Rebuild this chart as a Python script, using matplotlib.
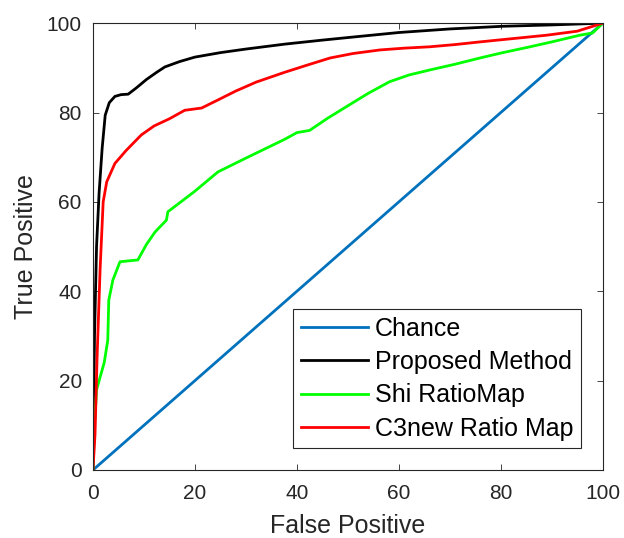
import matplotlib
matplotlib.use('Agg')
import matplotlib.pyplot as plt

plt.rcParams['font.family'] = ['Liberation Sans', 'DejaVu Sans']

chance_x = [0, 100]
chance_y = [0, 100]

proposed_x = [0, 0.3, 0.7, 1.2, 1.8, 2.4, 3.2, 4.3, 5.5, 6.9, 8.5, 10.5, 12.5, 14.1, 17, 20, 25, 30, 37.6, 45, 52, 60, 70, 80.4, 90, 100]
proposed_y = [0, 30, 50, 62, 72, 79.4, 82.2, 83.6, 84, 84.1, 85.5, 87.4, 89, 90.2, 91.4, 92.4, 93.4, 94.2, 95.3, 96.2, 97, 97.9, 98.7, 99.3, 99.6, 100]

shi_x = [0, 0.3, 0.7, 1.4, 2.2, 2.9, 3.1, 3.9, 5.3, 7, 8.8, 10.5, 12.2, 14.4, 14.7, 17.7, 20, 24.5, 30, 37.6, 40, 42.5, 46, 49.7, 54, 58.2, 62, 66, 71, 75.9, 80, 85.7, 90, 95.5, 98, 100]
shi_y = [0, 10, 17.9, 20.8, 24, 29, 38, 42.5, 46.6, 46.8, 47, 50.5, 53.3, 55.9, 57.8, 60.4, 62.4, 66.7, 69.8, 74, 75.5, 76, 78.7, 81.3, 84.3, 86.9, 88.4, 89.5, 90.8, 92.2, 93.3, 94.7, 95.8, 97.3, 97.8, 100]

c3_x = [0, 0.2, 0.4, 0.8, 1.4, 2, 2.7, 4.3, 6.5, 9.5, 12, 15, 18, 21.3, 24.5, 28, 32, 37.6, 42, 46.5, 51, 56.3, 61, 66, 71, 75.9, 82, 89, 95, 100]
c3_y = [0, 4, 8, 25, 45, 60, 64.5, 68.6, 71.5, 75, 77, 78.6, 80.5, 81, 82.8, 84.8, 86.8, 89, 90.6, 92.2, 93.2, 94, 94.4, 94.7, 95.2, 95.8, 96.5, 97.3, 98.2, 100]

labels = ['Chance', 'Proposed Method', 'Shi RatioMap', 'C3new Ratio Map']

fig = plt.figure(figsize=(6.24, 5.38), dpi=100)
ax = fig.add_axes([0.149, 0.1264, 0.817, 0.8306])

ax.plot(chance_x, chance_y, color='#0072BD', lw=2, label=labels[0])
ax.plot(proposed_x, proposed_y, color='black', lw=2, label=labels[1])
ax.plot(shi_x, shi_y, color=(0, 1, 0), lw=2, label=labels[2])
ax.plot(c3_x, c3_y, color=(1, 0, 0), lw=2, label=labels[3])

ax.set_xlim(0, 100)
ax.set_ylim(0, 100)
ax.set_xticks(range(0, 101, 20))
ax.set_yticks(range(0, 101, 20))

gray = '#262626'
ax.tick_params(direction='in', top=True, right=True, length=4, width=0.6,
               colors=gray, labelsize=15, labelcolor=gray)
ax.tick_params(axis='x', pad=10)
ax.tick_params(axis='y', pad=8)
for s in ax.spines.values():
    s.set_color(gray)
    s.set_linewidth(0.8)

# label sits right at the bottom edge, like the original export
ax.set_xlabel('False Positive', fontsize=18, color=gray, va='baseline')
ax.xaxis.set_label_coords(0.5, -0.142)
ax.set_ylabel('True Positive', fontsize=18, color=gray)
ax.yaxis.set_label_coords(-0.107, 0.5)

leg = ax.legend(loc='lower right', bbox_to_anchor=(1 - 22 / 510, 22 / 447), fontsize=18,
                frameon=True, fancybox=False, edgecolor=gray, framealpha=1,
                handlelength=2.7, handletextpad=0.27, borderpad=0.3, labelspacing=0.37,
                borderaxespad=0)
leg.get_frame().set_linewidth(0.8)

fig.savefig('out.png', dpi=100)
